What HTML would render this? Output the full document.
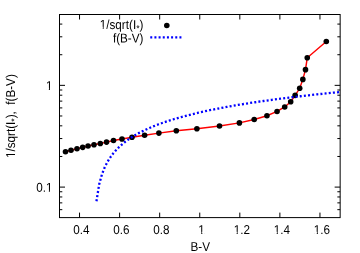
<!DOCTYPE html>
<html><head><meta charset="utf-8"><style>
html,body{margin:0;padding:0;background:#fff;}
svg{display:block;opacity:0.999;will-change:transform;}
text{font-family:"Liberation Sans",sans-serif;font-size:11.7px;fill:#000;text-rendering:geometricPrecision;}
</style></head><body>
<svg width="360" height="253" viewBox="0 0 360 253">
<rect width="360" height="253" fill="#fff"/>
<path d="M79.54 217.6V212.6M79.54 14.5V19.5M119.61 217.6V212.6M119.61 14.5V19.5M159.68 217.6V212.6M159.68 14.5V19.5M199.75 217.6V212.6M199.75 14.5V19.5M239.82 217.6V212.6M239.82 14.5V19.5M279.89 217.6V212.6M279.89 14.5V19.5M319.96 217.6V212.6M319.96 14.5V19.5M59.5 187.10H65.0M340.15 187.10H334.65M59.5 85.35H65.0M340.15 85.35H334.65M59.5 209.67H62.3M340.15 209.67H337.34999999999997M59.5 202.86H62.3M340.15 202.86H337.34999999999997M59.5 196.96H62.3M340.15 196.96H337.34999999999997M59.5 191.76H62.3M340.15 191.76H337.34999999999997M59.5 156.47H62.3M340.15 156.47H337.34999999999997M59.5 138.55H62.3M340.15 138.55H337.34999999999997M59.5 125.84H62.3M340.15 125.84H337.34999999999997M59.5 115.98H62.3M340.15 115.98H337.34999999999997M59.5 107.92H62.3M340.15 107.92H337.34999999999997M59.5 101.11H62.3M340.15 101.11H337.34999999999997M59.5 95.21H62.3M340.15 95.21H337.34999999999997M59.5 90.01H62.3M340.15 90.01H337.34999999999997M59.5 54.72H62.3M340.15 54.72H337.34999999999997M59.5 36.80H62.3M340.15 36.80H337.34999999999997M59.5 24.09H62.3M340.15 24.09H337.34999999999997" stroke="#000" stroke-width="1" fill="none"/>
<rect x="59.5" y="14.5" width="280.65" height="203.1" fill="none" stroke="#000" stroke-width="1"/>
<path d="M65.50 151.75 L71.00 150.25 L77.00 148.75 L82.70 147.35 L88.05 146.00 L94.00 144.70 L100.30 143.45 L106.55 142.10 L113.50 140.50 L122.00 138.95 L132.00 137.20 L144.60 135.25 L158.90 133.10 L176.30 130.80 L196.90 128.70 L219.50 126.00 L239.40 122.90 L254.20 119.50 L266.95 115.75 L277.05 111.45 L284.70 106.95 L290.70 101.80 L295.15 95.35 L299.70 88.30 L302.85 79.40 L305.50 69.65 L307.25 57.80 L326.30 41.50" stroke="#ff0000" stroke-width="1.45" fill="none"/>
<circle cx="65.50" cy="151.75" r="2.8" fill="#000"/><circle cx="71.00" cy="150.25" r="2.8" fill="#000"/><circle cx="77.00" cy="148.75" r="2.8" fill="#000"/><circle cx="82.70" cy="147.35" r="2.8" fill="#000"/><circle cx="88.05" cy="146.00" r="2.8" fill="#000"/><circle cx="94.00" cy="144.70" r="2.8" fill="#000"/><circle cx="100.30" cy="143.45" r="2.8" fill="#000"/><circle cx="106.55" cy="142.10" r="2.8" fill="#000"/><circle cx="113.50" cy="140.50" r="2.8" fill="#000"/><circle cx="122.00" cy="138.95" r="2.8" fill="#000"/><circle cx="132.00" cy="137.20" r="2.8" fill="#000"/><circle cx="144.60" cy="135.25" r="2.8" fill="#000"/><circle cx="158.90" cy="133.10" r="2.8" fill="#000"/><circle cx="176.30" cy="130.80" r="2.8" fill="#000"/><circle cx="196.90" cy="128.70" r="2.8" fill="#000"/><circle cx="219.50" cy="126.00" r="2.8" fill="#000"/><circle cx="239.40" cy="122.90" r="2.8" fill="#000"/><circle cx="254.20" cy="119.50" r="2.8" fill="#000"/><circle cx="266.95" cy="115.75" r="2.8" fill="#000"/><circle cx="277.05" cy="111.45" r="2.8" fill="#000"/><circle cx="284.70" cy="106.95" r="2.8" fill="#000"/><circle cx="290.70" cy="101.80" r="2.8" fill="#000"/><circle cx="295.15" cy="95.35" r="2.8" fill="#000"/><circle cx="299.70" cy="88.30" r="2.8" fill="#000"/><circle cx="302.85" cy="79.40" r="2.8" fill="#000"/><circle cx="305.50" cy="69.65" r="2.8" fill="#000"/><circle cx="307.25" cy="57.80" r="2.8" fill="#000"/><circle cx="326.30" cy="41.50" r="2.8" fill="#000"/><circle cx="166.80" cy="25.50" r="2.8" fill="#000"/>
<g stroke="#0000ff" stroke-width="2.3" fill="none" stroke-dasharray="2.0 2.168"><path d="M96.33 202.07 L99.17 184.30 L102.00 174.16 L104.83 167.04 L107.67 161.54 L110.50 157.06 L113.33 153.28 L116.17 150.01 L119.00 147.13 L121.83 144.56 L124.67 142.24 L127.50 140.11 L130.33 138.16 L133.17 136.36 L136.00 134.68 L138.83 133.11 L141.67 131.63 L144.50 130.24 L147.33 128.92 L150.17 127.68 L153.00 126.49 L155.83 125.36 L158.67 124.28 L161.50 123.25 L164.33 122.25 L167.17 121.30 L170.00 120.38 L172.83 119.50 L175.67 118.65 L178.50 117.82 L181.33 117.03 L184.17 116.26 L187.00 115.51 L189.83 114.79 L192.67 114.08 L195.50 113.40 L198.33 112.73 L201.17 112.08 L204.00 111.45 L206.83 110.84 L209.67 110.24 L212.50 109.66 L215.33 109.08 L218.17 108.53 L221.00 107.98 L223.83 107.45 L226.67 106.93 L229.50 106.42 L232.33 105.92 L235.17 105.43 L238.00 104.94 L240.83 104.47 L243.67 104.01 L246.50 103.56 L249.33 103.11 L252.17 102.68 L255.00 102.25 L257.83 101.82 L260.67 101.41 L263.50 101.00 L266.33 100.60 L269.17 100.21 L272.00 99.82 L274.83 99.44 L277.67 99.06 L280.50 98.69 L283.33 98.33 L286.17 97.97 L289.00 97.61 L291.83 97.26 L294.67 96.92 L297.50 96.58 L300.33 96.25 L303.17 95.92 L306.00 95.59 L308.83 95.27 L311.67 94.95 L314.50 94.64 L317.33 94.33 L320.17 94.03 L323.00 93.72 L325.83 93.43 L328.67 93.13 L331.50 92.84 L334.33 92.56 L337.17 92.27 L340.00 91.99" stroke-dashoffset="3.288"/><path d="M150.25 37.3H182"/></g>
<g transform="translate(143.40 28.90) rotate(0.04) scale(1 1.1)"><text text-anchor="end" xml:space="preserve">1/sqrt(I<tspan font-size="8.6px" dy="2.3">*</tspan><tspan dy="-2.3">)</tspan></text><path d="M-43.31 -1.94H-40.67V0.9H-43.31ZM-39.63 -1.94H-37.22V0.9H-39.63Z" fill="#fff"/></g>
<g transform="translate(143.40 42.50) rotate(0.04) scale(1 1.1)"><text text-anchor="end" xml:space="preserve">f(B-V)</text></g>
<g transform="translate(81.34 234.00) rotate(0.04) scale(1 1.1)"><text text-anchor="middle" xml:space="preserve">0.4</text></g>
<g transform="translate(121.41 234.00) rotate(0.04) scale(1 1.1)"><text text-anchor="middle" xml:space="preserve">0.6</text></g>
<g transform="translate(161.48 234.00) rotate(0.04) scale(1 1.1)"><text text-anchor="middle" xml:space="preserve">0.8</text></g>
<g transform="translate(201.55 234.00) rotate(0.04) scale(1 1.1)"><text text-anchor="middle" xml:space="preserve">1</text><path d="M-2.91 -1.94H-0.27V0.9H-2.91ZM0.77 -1.94H3.17V0.9H0.77Z" fill="#fff"/></g>
<g transform="translate(241.82 234.00) rotate(0.04) scale(1 1.1)"><text text-anchor="middle" xml:space="preserve">1.2</text><path d="M-7.79 -1.94H-5.15V0.9H-7.79ZM-4.11 -1.94H-1.71V0.9H-4.11Z" fill="#fff"/></g>
<g transform="translate(281.89 234.00) rotate(0.04) scale(1 1.1)"><text text-anchor="middle" xml:space="preserve">1.4</text><path d="M-7.79 -1.94H-5.15V0.9H-7.79ZM-4.11 -1.94H-1.71V0.9H-4.11Z" fill="#fff"/></g>
<g transform="translate(321.96 234.00) rotate(0.04) scale(1 1.1)"><text text-anchor="middle" xml:space="preserve">1.6</text><path d="M-7.79 -1.94H-5.15V0.9H-7.79ZM-4.11 -1.94H-1.71V0.9H-4.11Z" fill="#fff"/></g>
<g transform="translate(200.20 251.00) rotate(0.04) scale(1 1.1)"><text text-anchor="middle" xml:space="preserve">B-V</text></g>
<g transform="translate(52.40 89.90) rotate(0.04) scale(1 1.1)"><text text-anchor="end" xml:space="preserve">1</text><path d="M-6.16 -1.94H-3.52V0.9H-6.16ZM-2.49 -1.94H-0.08V0.9H-2.49Z" fill="#fff"/></g>
<g transform="translate(52.40 191.80) rotate(0.04) scale(1 1.1)"><text text-anchor="end" xml:space="preserve">0.1</text><path d="M-6.16 -1.94H-3.52V0.9H-6.16ZM-2.49 -1.94H-0.08V0.9H-2.49Z" fill="#fff"/></g>
<g transform="translate(14.90 158.10) rotate(-89.96) scale(1 1.1)"><text text-anchor="start" xml:space="preserve">1/sqrt(I<tspan font-size="8.6px" dy="2.3">*</tspan><tspan dy="-2.3">)</tspan>,  f(B-V)</text><path d="M0.34 -1.94H2.98V0.9H0.34ZM4.02 -1.94H6.43V0.9H4.02Z" fill="#fff"/></g>
</svg></body></html>
